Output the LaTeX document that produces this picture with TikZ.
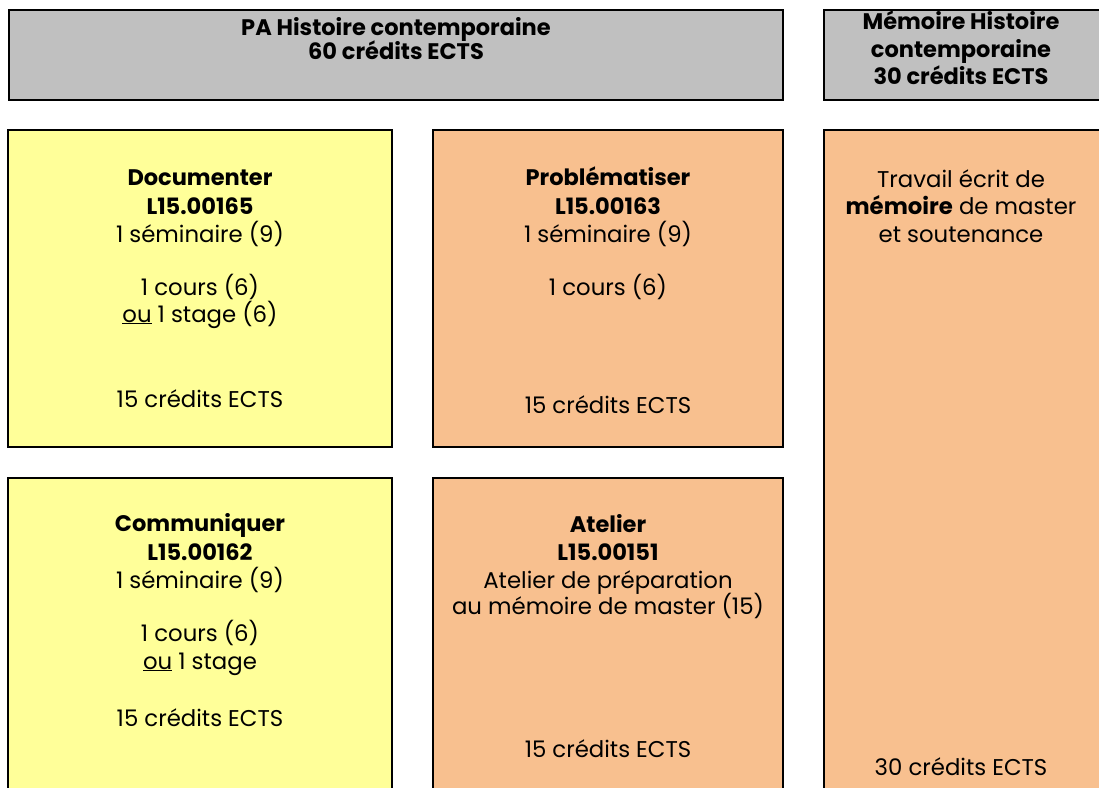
\documentclass[tikz,border=0pt]{standalone}
\usepackage{fontspec}
\setmainfont{Poppins}
\definecolor{hdrgray}{HTML}{C0C0C0}
\definecolor{boxyellow}{HTML}{FFFF99}
\definecolor{boxorange}{HTML}{F8C08F}
\begin{document}
\begin{tikzpicture}[x=1pt,y=-1pt,
  frame/.style={draw=black,line width=2.2pt},
  txt/.style={anchor=base,inner sep=0pt,font=\fontsize{22.8}{26}\selectfont},
  btxt/.style={anchor=base,inner sep=0pt,font=\fontsize{22.5}{26}\selectfont\bfseries}]
\useasboundingbox (0,0) rectangle (1099,787);
\clip (0,0) rectangle (1099,787);
% headers
\path[frame,fill=hdrgray] (9,10) rectangle (783,100);
\node[btxt] (pa1) at (396,35) {PA Histoire contemporaine};
\node[btxt] (pa2) at (396,59) {60 crédits ECTS};
\path[frame,fill=hdrgray] (824,10) rectangle (1101,100);
\node[btxt] (me1) at (961,29) {Mémoire Histoire};
\node[btxt] (me2) at (961,57) {contemporaine};
\node[btxt] (me3) at (961,84) {30 crédits ECTS};
% Documenter
\path[frame,fill=boxyellow] (8,130) rectangle (392,447);
\node[btxt] (d1) at (200,185) {Documenter};
\node[btxt] (d2) at (200,214) {L15.00165};
\node[txt] (d3) at (200,242) {1 séminaire (9)};
\node[txt] (d4) at (200,295) {1 cours (6)};
\node[txt] (d5) at (200,322) {\underline{ou} 1 stage (6)};
\node[txt] (d6) at (200,407) {15 crédits ECTS};
% Problematiser
\path[frame,fill=boxorange] (433,130) rectangle (783,447);
\node[btxt] (p1) at (608,185) {Problématiser};
\node[btxt] (p2) at (608,214) {L15.00163};
\node[txt] (p3) at (608,242) {1 séminaire (9)};
\node[txt] (p4) at (608,295) {1 cours (6)};
\node[txt] (p5) at (608,413) {15 crédits ECTS};
% Communiquer
\path[frame,fill=boxyellow] (8,478) rectangle (392,800);
\node[btxt] (c1) at (200,531) {Communiquer};
\node[btxt] (c2) at (200,560) {L15.00162};
\node[txt] (c3) at (200,588) {1 séminaire (9)};
\node[txt] (c4) at (200,641) {1 cours (6)};
\node[txt] (c5) at (200,669) {\underline{ou} 1 stage};
\node[txt] (c6) at (200,726) {15 crédits ECTS};
% Atelier
\path[frame,fill=boxorange] (433,478) rectangle (783,800);
\node[btxt] (a1) at (608,532) {Atelier};
\node[btxt] (a2) at (608,560) {L15.00151};
\node[txt] (a3) at (608,588) {Atelier de préparation};
\node[txt] (a4) at (608,614) {au mémoire de master (15)};
\node[txt] (a5) at (608,757) {15 crédits ECTS};
% Memoire
\path[frame,fill=boxorange] (824,130) rectangle (1101,800);
\node[txt] (m1) at (961,187) {Travail écrit de};
\node[txt] (m2) at (961,214) {\textbf{mémoire} de master};
\node[txt] (m3) at (961,242) {et soutenance};
\node[txt] (m4) at (961,775) {30 crédits ECTS};
\end{tikzpicture}
\end{document}
